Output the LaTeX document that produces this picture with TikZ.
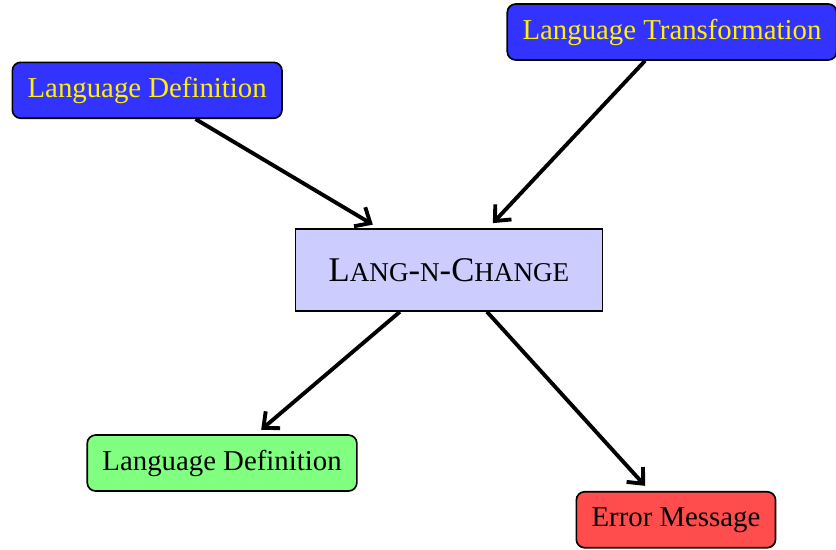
\documentclass[tikz,border=0pt]{standalone}
\usepackage{fontspec}
\setmainfont{Liberation Serif}
\usepackage{tikz}
\usetikzlibrary{arrows.meta}
\def\langname{\fontsize{12.5}{15}\selectfont L{\fontsize{9.8}{12}\selectfont ANG}-{\fontsize{9.8}{12}\selectfont N}-C{\fontsize{9.8}{12}\selectfont HANGE}}
\colorlet{input area}{blue!80}
\colorlet{tool area}{blue!20}
\colorlet{ok area}{green!50}
\colorlet{error area}{red!70}
\tikzset{every node/.style={font=\fontsize{10.4}{12.5}\selectfont},
	inbox/.style={fill=input area, draw=black, semithick, rounded corners=3pt, text=yellow, inner xsep=5.5pt, minimum height=0.71cm},
	outbox/.style={draw=black, semithick, rounded corners=3pt, inner xsep=5.5pt, minimum height=0.71cm},
	toolbox/.style={fill=tool area, draw=black, semithick, minimum width=3.9cm, minimum height=1.04cm},
	flow/.style={-{Straight Barb[length=4.5pt,width=8pt]}, line width=1.4pt, shorten >=2.5pt}}

\begin{document}
\begin{tikzpicture}
		\useasboundingbox (-5.698,-3.553) rectangle (4.911,3.426);
		\node[toolbox] (lnc) at (0,0) {\langname};
		\node[inbox] (ldef) at (-3.83,2.28) {Language Definition};
		\node[inbox] (ltrans) at (2.83,3.02) {Language Transformation};
		
		\node[outbox, fill=ok area] (lout) at (-2.88,-2.45) {Language Definition};
		\node[outbox, fill=error area] (lerr) at (2.88,-3.17) {Error Message};
		\draw[flow] (ldef) -- (lnc);
		\draw[flow] (ltrans) -- (lnc);
		\draw[flow] (lnc) -- (lout);
		\draw[flow] (lnc) -- (lerr);
		\end{tikzpicture}
\end{document}
